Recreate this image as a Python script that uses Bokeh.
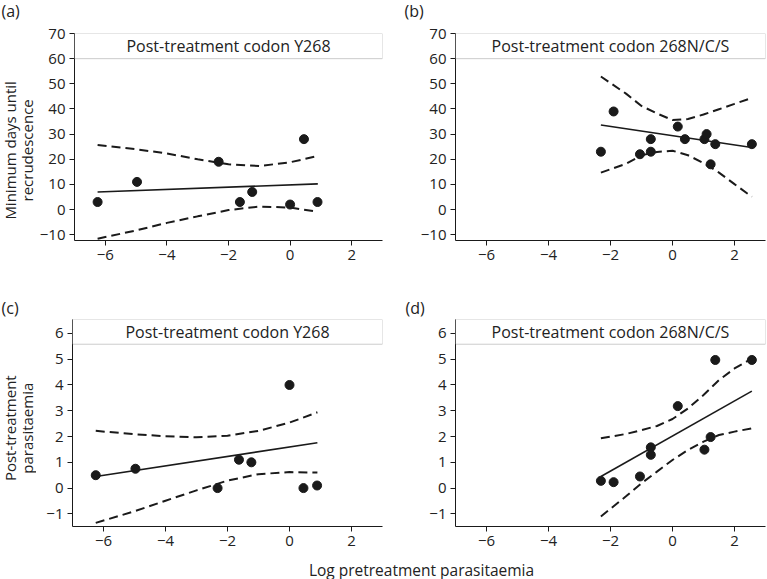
import math
from bokeh.plotting import figure
from bokeh.models import Range1d, FixedTicker, BoxAnnotation, Label, CustomJSTickFormatter
from bokeh.layouts import column, row
from bokeh.embed import file_html
from bokeh.resources import INLINE

FONT = "Open Sans"
INK = "#1a1a1a"
TXT = "#222222"

# ---------------- data ----------------
panel_letters = ["(a)", "(b)", "(c)", "(d)"]
strip_titles = ["Post-treatment codon Y268", "Post-treatment codon 268N/C/S",
                "Post-treatment codon Y268", "Post-treatment codon 268N/C/S"]
y_label_days = ["Minimum days until", "recrudescence"]
y_label_para = ["Post-treatment", "parasitaemia"]
x_label = "Log pretreatment parasitaemia"
x_ticks = [-6, -4, -2, 0, 2]
days_ticks = [-10, 0, 10, 20, 30, 40, 50, 60, 70]
para_ticks = [-1, 0, 1, 2, 3, 4, 5, 6]

# Y268 group
x_y268 = [-6.25, -4.97, -2.32, -1.63, -1.23, 0.0, 0.45, 0.89]
days_y268 = [3, 11, 19, 3, 7, 2, 28, 3]
para_y268 = [0.5, 0.75, 0.0, 1.1, 1.0, 4.0, 0.0, 0.1]

# 268N/C/S group
x_mut_days = [-2.31, -1.90, -1.05, -0.70, -0.70, 0.17, 0.40, 1.03, 1.10, 1.23, 1.38, 2.56]
days_mut = [23, 39, 22, 28, 23, 33, 28, 28, 30, 18, 26, 26]
x_mut_para = [-2.31, -1.90, -1.05, -0.70, -0.70, 0.17, 1.03, 1.23, 1.38, 2.56]
para_mut = [0.28, 0.23, 0.45, 1.58, 1.29, 3.18, 1.49, 1.98, 4.97, 4.97]

# fitted regression lines (end points)
fit_x_y268 = [-6.25, 0.9]
fit_days_y268 = [7.0, 10.2]
fit_para_y268 = [0.45, 1.76]
fit_x_mut = [-2.31, 2.56]
fit_days_mut = [33.6, 24.7]
fit_para_mut = [0.45, 3.76]

# confidence bands
ci_x_y268 = [-6.25, -5, -4, -3, -2, -1, 0, 0.9]
ci_days_y268_hi = [25.7, 24.0, 22.3, 20.0, 18.0, 17.3, 18.8, 21.3]
ci_days_y268_lo = [-11.6, -8.3, -5.3, -2.7, -0.2, 1.2, 0.8, -0.9]
ci_para_y268_hi = [2.22, 2.09, 2.01, 1.97, 2.03, 2.22, 2.54, 2.94]
ci_para_y268_lo = [-1.35, -0.90, -0.49, -0.09, 0.29, 0.54, 0.62, 0.60]
ci_x_mut = [-2.31, -1.5, -1, -0.5, 0, 0.5, 1, 1.5, 2, 2.56]
ci_days_mut_hi = [52.9, 46.1, 41.2, 38.2, 35.6, 36.0, 37.8, 39.9, 42.0, 44.4]
ci_days_mut_lo = [14.7, 18.2, 21.6, 22.9, 23.4, 21.6, 18.5, 14.7, 10.1, 5.1]
ci_para_mut_hi = [1.93, 2.10, 2.25, 2.41, 2.68, 3.09, 3.61, 4.19, 4.64, 5.03]
ci_para_mut_lo = [-1.10, -0.32, 0.19, 0.64, 1.09, 1.48, 1.80, 2.06, 2.19, 2.32]

days_range = (-12.3, 70)
days_strip = 60
para_range = (-1.49, 6.54)
para_strip = 5.58

minus_fmt = CustomJSTickFormatter(code="return tick < 0 ? '\\u2212' + Math.abs(tick) : String(tick);")


def blank(w, h):
    f = figure(width=w, height=h, x_range=Range1d(0, w), y_range=Range1d(0, h),
               output_backend="svg", toolbar_location=None, min_border=0,
               x_axis_type=None, y_axis_type=None, sizing_mode="fixed")
    f.grid.visible = False
    f.outline_line_color = None
    f.background_fill_color = "white"
    f.border_fill_color = "white"
    return f


def txt(f, x, y, s, size, align="center", baseline="middle", angle=0.0):
    f.add_layout(Label(x=x, y=y, text=s, text_align=align, text_baseline=baseline,
                       angle=angle, text_font=FONT, text_font_size=size, text_color=TXT))


def panel(idx, xs, ys, fx, fy, cx, chi, clo, yr, strip_bottom, yticks,
          b_left, b_top, b_bottom):
    p = figure(width=b_left + 310 + 2, height=b_top + 207 + b_bottom,
               x_range=Range1d(-7, 3), y_range=Range1d(*yr),
               output_backend="svg", toolbar_location=None, sizing_mode="fixed",
               min_border_left=b_left, min_border_right=2,
               min_border_top=b_top, min_border_bottom=b_bottom)
    p.grid.visible = False
    p.outline_line_color = None
    p.background_fill_color = "white"
    p.border_fill_color = "white"

    p.xaxis.ticker = FixedTicker(ticks=x_ticks)
    p.yaxis.ticker = FixedTicker(ticks=yticks)
    for ax in (p.xaxis[0], p.yaxis[0]):
        ax.formatter = minus_fmt
        ax.axis_line_color = INK
        ax.axis_line_width = 1
        ax.major_tick_line_color = INK
        ax.major_tick_out = 5
        ax.major_tick_in = 0
        ax.minor_tick_line_color = None
        ax.major_label_text_font = FONT
        ax.major_label_text_font_size = "15px"
        ax.major_label_text_color = TXT
        ax.major_label_standoff = 4

    # confidence band and fit
    p.line(cx, chi, line_color=INK, line_width=2, line_dash="9 5")
    p.line(cx, clo, line_color=INK, line_width=2, line_dash="9 5")
    p.line(fx, fy, line_color=INK, line_width=1.6)
    p.scatter(xs, ys, size=9, color=INK)

    # strip header
    p.add_layout(BoxAnnotation(bottom=strip_bottom, top=yr[1], fill_color="white",
                               fill_alpha=1, line_color="#555555", line_width=1))
    p.add_layout(Label(x=-2, y=(strip_bottom + yr[1]) / 2, text=strip_titles[idx],
                       text_align="center", text_baseline="middle",
                       text_font=FONT, text_font_size="16px", text_color=TXT))
    return p


pa = panel(0, x_y268, days_y268, fit_x_y268, fit_days_y268, ci_x_y268,
           ci_days_y268_hi, ci_days_y268_lo, days_range, days_strip, days_ticks,
           36, 11, 30)
pb = panel(1, x_mut_days, days_mut, fit_x_mut, fit_days_mut, ci_x_mut,
           ci_days_mut_hi, ci_days_mut_lo, days_range, days_strip, days_ticks,
           71, 11, 30)
pc = panel(2, x_y268, para_y268, fit_x_y268, fit_para_y268, ci_x_y268,
           ci_para_y268_hi, ci_para_y268_lo, para_range, para_strip, para_ticks,
           36, 1, 30)
pd = panel(3, x_mut_para, para_mut, fit_x_mut, fit_para_mut, ci_x_mut,
           ci_para_mut_hi, ci_para_mut_lo, para_range, para_strip, para_ticks,
           71, 1, 30)

# header with panel letters (a), (b)
head1 = blank(767, 22)
txt(head1, 1, 12, panel_letters[0], "16px", align="left")
txt(head1, 404, 12, panel_letters[1], "16px", align="left")

# y-axis title of the top row
ylab1 = blank(36, 248)
txt(ylab1, 9.2, 108, y_label_days[0], "15px", angle=math.pi / 2)
txt(ylab1, 26.8, 108, y_label_days[1], "15px", angle=math.pi / 2)

# header with panel letters (c), (d)
head2 = blank(767, 48)
txt(head2, 1, 11, panel_letters[2], "16px", align="left")
txt(head2, 405, 11, panel_letters[3], "16px", align="left")

# y-axis title of the bottom row
ylab2 = blank(36, 238)
txt(ylab2, 9.2, 113, y_label_para[0], "15px", angle=math.pi / 2)
txt(ylab2, 26.8, 113, y_label_para[1], "15px", angle=math.pi / 2)

# shared x-axis title
xlab = blank(767, 23)
txt(xlab, 421, 10, x_label, "15.5px")

layout = column(head1, row(ylab1, pa, pb), head2, row(ylab2, pc, pd), xlab)

open("out.html", "w").write(file_html(layout, INLINE))
